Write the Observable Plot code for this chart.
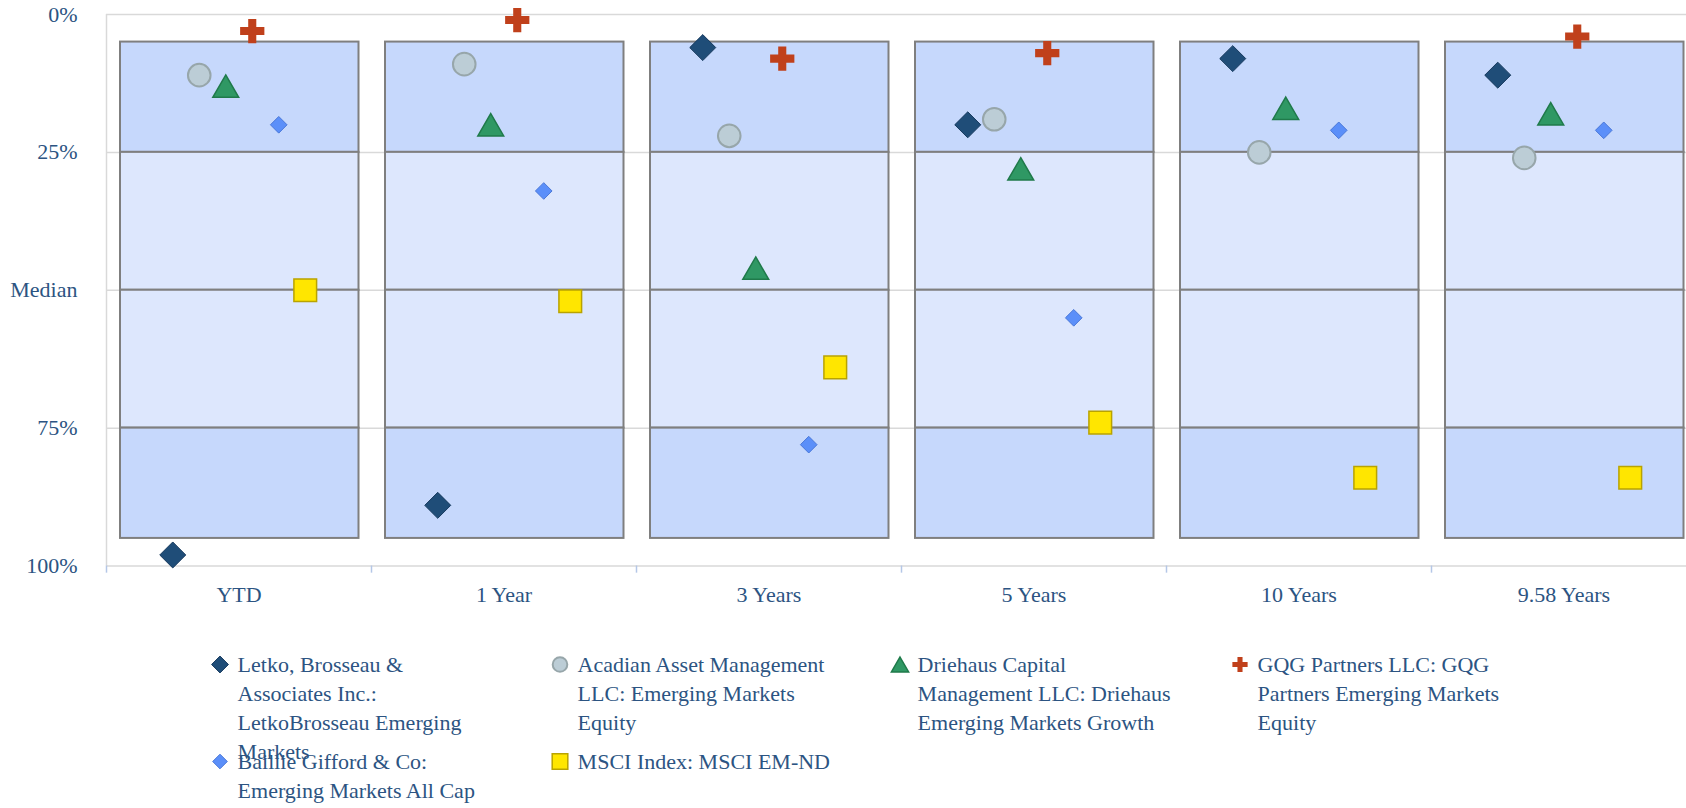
<!DOCTYPE html>
<html><head><meta charset="utf-8">
<script src="https://cdn.jsdelivr.net/npm/d3@7"></script>
<script src="https://cdn.jsdelivr.net/npm/@observablehq/plot@0.6"></script>
<style>
html,body{margin:0;padding:0;background:#fff;overflow:hidden;}
#chart svg{display:block;}
.legend{display:grid;grid-template-columns:repeat(4,340px);grid-auto-rows:97px;margin-top:29.5px;padding-left:209.6px;font-family:"Liberation Serif","Times New Roman",serif;font-size:22px;line-height:29px;color:#2c5482;}
.item{display:flex;align-items:flex-start;}
.item svg{flex:0 0 20px;height:29px;margin-right:8px;overflow:visible;}
.item span{width:260px;display:block;}
</style></head><body>
<div id="chart"></div>
<div class="legend" id="legend"></div>
<script>
// ---- data ----
const categories = ["YTD", "1 Year", "3 Years", "5 Years", "10 Years", "9.58 Years"];
const seriesNames = [
  "Letko, Brosseau & Associates Inc.: LetkoBrosseau Emerging Markets",
  "Acadian Asset Management LLC: Emerging Markets Equity",
  "Driehaus Capital Management LLC: Driehaus Emerging Markets Growth",
  "GQG Partners LLC: GQG Partners Emerging Markets Equity",
  "Baillie Gifford & Co: Emerging Markets All Cap",
  "MSCI Index: MSCI EM-ND"
];
const letko    = [98, 89, 6, 20, 8, 11];
const acadian  = [11, 9, 22, 19, 25, 26];
const driehaus = [13, 20, 46, 28, 17, 18];
const gqg      = [3, 1, 8, 7, null, 4];
const baillie  = [20, 32, 78, 55, 21, 21];
const msci     = [50, 52, 64, 74, 84, 84];
const yTicks = [0, 25, 50, 75, 100];
const yTickLabels = ["0%", "25%", "Median", "75%", "100%"];
const boxEdges = [5, 25, 50, 75, 95];

// ---- styles ----
const seriesValues = [letko, acadian, driehaus, gqg, baillie, msci];
const seriesStyles = [
  {symbol: "diamond2", r: 11.7, lr: 7.6, fill: "#1f4d78", stroke: "#173a5e", strokeWidth: 1},
  {symbol: "circle",   r: 11.3, lr: 7.3, fill: "#bccdd6", stroke: "#97a6aa", strokeWidth: 2},
  {symbol: "triangle", r: 9.6,  lr: 6.4, fill: "#2f9864", stroke: "#1f7a4a", strokeWidth: 1.5, dy: 3.7},
  {symbol: "cross",    r: 10.2, lr: 6.4, fill: "#c0401b", stroke: "none", strokeWidth: 0},
  {symbol: "diamond2", r: 7.5,  lr: 6.6, fill: "#5b8ff9", stroke: "#4a78d8", strokeWidth: 1},
  {symbol: "square",   r: 12.8, lr: 8.8, fill: "#ffe600", stroke: "#b9a300", strokeWidth: 1.5}
];

const rows = [];
seriesNames.forEach((s, i) => categories.forEach((c, j) => {
  const v = seriesValues[i][j];
  if (v != null) rows.push({series: s, idx: i, cat: c, value: v});
}));
const boxRows = categories.flatMap(c => boxEdges.slice(0, -1).map((lo, k) => ({
  cat: c, lo, hi: boxEdges[k + 1], outer: k === 0 || k === boxEdges.length - 2
})));
const xMin = -2.5, xMax = seriesNames.length - 1 + 2.5;

const chart = Plot.plot({
  width: 1686, height: 620,
  marginLeft: 106, marginRight: -10, marginTop: 14, marginBottom: 54.5,
  style: {fontFamily: "'Liberation Serif','Times New Roman',serif", fontSize: "22px", color: "#2c5482", background: "white"},
  fx: {domain: categories, padding: 0, label: null, axis: "bottom", tickSize: 0, tickPadding: 20},
  x: {domain: [xMin, xMax], axis: null},
  y: {domain: [0, 100], reverse: true, axis: "left", ticks: yTicks,
      tickFormat: d => yTickLabels[yTicks.indexOf(d)], tickSize: 0, tickPadding: 29, label: null},
  marks: [
    Plot.ruleY(yTicks, {stroke: "#d9d9d9", strokeWidth: 1.5}),
    Plot.ruleX([categories[0]], {fx: d => d, x: () => xMin, y1: 0, y2: 100, stroke: "#d9d9d9", strokeWidth: 1.5}),
    Plot.ruleX(categories, {fx: d => d, x: () => xMin, y1: 100, y2: 101.3, stroke: "#b4c7e7", strokeWidth: 1.5}),
    Plot.rect(boxRows, {fx: "cat", y1: "lo", y2: "hi", fill: d => d.outer ? "#c6d8fc" : "#dde7fd",
      stroke: "#7f7f7f", strokeWidth: 2, insetLeft: 14, insetRight: 12.5}),
    ...seriesNames.map((s, i) => {
      const st = seriesStyles[i];
      return Plot.dot(rows.filter(d => d.series === s), {
        fx: "cat", x: "idx", y: "value", symbol: st.symbol, r: st.r,
        fill: st.fill, stroke: st.stroke, strokeWidth: st.strokeWidth, dy: st.dy || 0
      });
    })
  ]
});
document.getElementById("chart").append(chart);

// ---- legend ----
const symbolMap = {diamond2: d3.symbolDiamond2, circle: d3.symbolCircle, triangle: d3.symbolTriangle, cross: d3.symbolCross, square: d3.symbolSquare};
const legend = d3.select("#legend");
seriesNames.forEach((s, i) => {
  const st = seriesStyles[i];
  const item = legend.append("div").attr("class", "item");
  const svg = item.append("svg").attr("width", 20).attr("height", 29).attr("viewBox", "-10 -14.5 20 29");
  svg.append("path")
    .attr("d", d3.symbol(symbolMap[st.symbol], Math.PI * st.lr * st.lr)())
    .attr("transform", st.symbol === "triangle" ? "translate(0,2.5)" : null)
    .attr("fill", st.fill).attr("stroke", st.stroke).attr("stroke-width", st.strokeWidth);
  item.append("span").text(s);
});
</script>
</body></html>
